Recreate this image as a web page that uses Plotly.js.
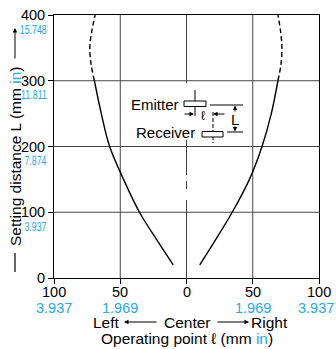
<!DOCTYPE html>
<html><head>
<meta charset="utf-8">
<script src="https://cdn.plot.ly/plotly-3.0.1.min.js"></script>
<style>body{margin:0;background:#fff}</style>
</head><body>
<div id="chart" style="width:336px;height:349px"></div>
<script>
// ---- data ----
const leftSolidX  = [-10, -23, -35.5, -47.5, -58, -64.3, -69.5];
const leftSolidL  = [20, 60, 100, 150, 200, 250, 300];
const leftDashX   = [-69.5, -72, -73, -71.5, -69];
const leftDashL   = [300, 325, 350, 375, 400];
const rightSolidX = [10, 22.5, 34.5, 47.5, 57, 64, 69];
const rightSolidL = [20, 60, 100, 150, 200, 250, 300];
const rightDashX  = [69, 71.3, 72, 71, 69];
const rightDashL  = [300, 325, 350, 375, 400];

const xTickVals = [-100, -50, 0, 50, 100];
const xTickText = ['100', '50', '0', '50', '100'];
const xInchText = ['3.937', '1.969', '', '1.969', '3.937'];
const yTickVals = [0, 100, 200, 300, 400];
const yTickText = ['0', '100', '200', '300', '400'];
const yInchText = ['', '3.937', '7.874', '11.811', '15.748'];

const BLUE = '#29a9e0';
const FONT = 'Liberation Sans, Arial, sans-serif';

// plot area in pixels: x 54..319, y 15..278
const PL = 54, PR = 319, PT = 15, PB = 278;
const px2x = p => (p - (PL + PR) / 2) / ((PR - PL) / 200);
const py2y = p => (PB - p) / ((PB - PT) / 400);
const ppx = p => (p - PL) / (PR - PL);
const ppy = p => (PB - p) / (PB - PT);

const lineStyle = {color: '#000', width: 1.4, shape: 'spline'};
const dashStyle = {color: '#000', width: 1.4, shape: 'spline', dash: '5px,3px'};
const traces = [
  {x: leftSolidX, y: leftSolidL, mode: 'lines', line: lineStyle, hoverinfo: 'skip'},
  {x: leftDashX, y: leftDashL, mode: 'lines', line: dashStyle, hoverinfo: 'skip'},
  {x: rightSolidX, y: rightSolidL, mode: 'lines', line: lineStyle, hoverinfo: 'skip'},
  {x: rightDashX, y: rightDashL, mode: 'lines', line: dashStyle, hoverinfo: 'skip'}
];

const GRID = '#444';
const shapes = [];
function seg(x0, y0, x1, y1, color, width, dash) {
  shapes.push({type: 'line', xref: 'x', yref: 'y', x0, y0, x1, y1, layer: 'below',
    line: {color: color || '#000', width: width || 1, dash: dash || 'solid'}});
}
// grid lines
[-50, 50].forEach(v => seg(v, 0, v, 400, GRID, 1));
[100, 200, 300].forEach(v => seg(-100, v, 100, v, GRID, 1));
// centre line (broken by the diagram box)
seg(0, 0, 0, py2y(200), GRID, 1);
seg(0, py2y(189), 0, py2y(181), GRID, 1);
seg(0, py2y(175), 0, py2y(140), GRID, 1);
seg(0, py2y(83), 0, 400, GRID, 1);

// emitter / receiver sketch
function rect(x0, x1, y0, y1) {
  shapes.push({type: 'rect', xref: 'x', yref: 'y', x0: px2x(x0), x1: px2x(x1), y0: py2y(y0), y1: py2y(y1),
    line: {color: '#000', width: 1}, fillcolor: '#fff'});
  seg(px2x(x0), py2y((y0 + y1) / 2), px2x(x1), py2y((y0 + y1) / 2), '#000', 1);
}
seg(px2x(195), py2y(90), px2x(195), py2y(116), '#000', 1);
rect(184, 206, 101, 106.5);
seg(px2x(213), py2y(112), px2x(213), py2y(143), '#000', 1, '4px,2px');
rect(202, 223, 131.5, 137);
seg(px2x(210), py2y(105), px2x(243), py2y(105), '#000', 1);
seg(px2x(227), py2y(132), px2x(243), py2y(132), '#000', 1);

const annotations = [];
function txt(text, x, y, opts) {
  annotations.push(Object.assign({xref: 'paper', yref: 'paper', x: ppx(x), y: ppy(y), text,
    xanchor: 'center', yanchor: 'middle',
    showarrow: false, font: {family: FONT, size: 15.5, color: '#000'}}, opts || {}));
  return annotations.length - 1;
}
function arrow(hx, hy, tx, ty) {
  annotations.push({xref: 'paper', yref: 'paper', x: ppx(hx), y: ppy(hy), ax: tx - hx, ay: ty - hy,
    axref: 'pixel', ayref: 'pixel', text: '', showarrow: true, arrowhead: 2, arrowsize: 0.9,
    arrowwidth: 1, arrowcolor: '#000', standoff: 0, startstandoff: 0});
}
// blue inch labels on y axis (condensed afterwards)
const narrowIdx = [];
yTickVals.forEach((v, i) => {
  if (!yInchText[i]) return;
  const p = PB - v * (PB - PT) / 400;
  narrowIdx.push(txt(yInchText[i], 49, p + 14, {xanchor: 'right', font: {family: FONT, size: 13, color: BLUE}}));
});
// x tick labels + blue inch labels
xTickVals.forEach((v, i) => {
  const p = (PL + PR) / 2 + v * (PR - PL) / 200;
  txt(xTickText[i], p, 292, {font: {family: FONT, size: 14.5, color: '#000'}});
  if (!xInchText[i]) return;
  if (i === xTickVals.length - 1) {
    txt(xInchText[i], 336, 308, {xanchor: 'right', font: {family: FONT, size: 14.5, color: BLUE}});
  } else {
    txt(xInchText[i], p, 308, {font: {family: FONT, size: 14.5, color: BLUE}});
  }
});
// diagram labels
txt('Emitter', 181, 104, {xanchor: 'right', font: {family: FONT, size: 15, color: '#000'}});
txt('Receiver', 197, 132, {xanchor: 'right', font: {family: FONT, size: 15, color: '#000'}});
txt('ℓ', 203, 115, {font: {family: FONT, size: 13, color: '#000'}});
txt('L', 235, 119, {font: {family: FONT, size: 15, color: '#000'}});
arrow(194, 114, 183, 114);
arrow(213, 114, 226, 114);
arrow(235, 105.5, 235, 113);
arrow(235, 131.5, 235, 125);
// bottom texts
txt('Left', 106, 322);
txt('Center', 187, 322);
txt('Right', 269, 322);
arrow(124, 322, 158, 322);
arrow(249, 322, 216, 322);
txt('Operating point ℓ (mm <span style="color:' + BLUE + '">in</span>)', 187, 338);
// y title
txt('Setting distance L (mm <span style="color:' + BLUE + '">in</span>)', 15, 156, {textangle: -90, font: {family: FONT, size: 15.5, color: '#000'}});
arrow(15, 28, 15, 60);
shapes.push({type: 'line', xref: 'paper', yref: 'paper', x0: ppx(15), x1: ppx(15), y0: ppy(253), y1: ppy(272),
  line: {color: '#000', width: 1.2}});

const layout = {
  width: 336, height: 349,
  margin: {l: PL, r: 336 - PR, t: PT, b: 349 - PB},
  paper_bgcolor: '#fff', plot_bgcolor: '#fff',
  showlegend: false,
  xaxis: {range: [-100, 100], tickvals: xTickVals, ticktext: xTickText, showticklabels: false,
    ticks: 'outside', ticklen: 5,
    tickcolor: '#000', showgrid: false, zeroline: false, showline: true, linecolor: '#000', linewidth: 1,
    mirror: true, fixedrange: true},
  yaxis: {range: [0, 400], tickvals: yTickVals, ticktext: yTickText, ticks: 'outside', ticklen: 5,
    tickcolor: '#000', showgrid: false, zeroline: false, showline: true, linecolor: '#000', linewidth: 1,
    mirror: true, tickfont: {family: FONT, size: 14.5, color: '#000'}, fixedrange: true},
  shapes, annotations
};
Plotly.newPlot('chart', traces, layout, {displayModeBar: false, staticPlot: true}).then(gd => {
  narrowIdx.forEach(i => {
    const t = gd.querySelector('.annotation[data-index="' + i + '"] .annotation-text');
    if (t) {
      t.style.transformBox = 'fill-box';
      t.style.transformOrigin = '100% 50%';
      t.style.transform = 'scaleX(0.68)';
    }
  });
});
</script>
</body></html>
